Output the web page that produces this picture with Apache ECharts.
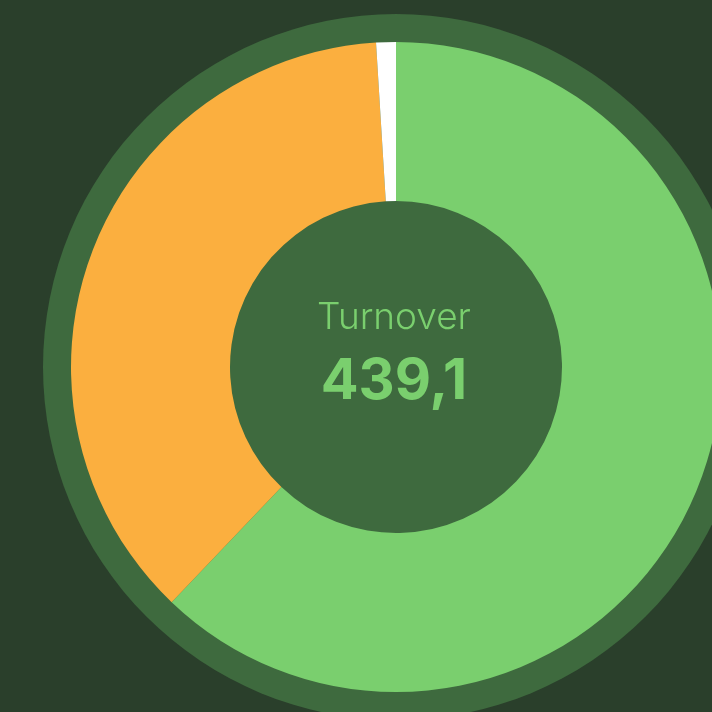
<!DOCTYPE html>
<html>
<head>
    <meta charset="utf-8">
    <title>Turnover</title>
    <script src="https://cdn.jsdelivr.net/npm/echarts@6/dist/echarts.min.js"></script>
    <style>
        html, body { margin: 0; padding: 0; background: #2a3f2b; }
        #main { width: 712px; height: 712px; }
    </style>
</head>
<body>
    <div id="main"></div>
    <script type="text/javascript">
    // data
    var names = ['Green', 'Orange', 'White'];
    var values = [272.8, 162.0, 4.3];
    var colors = ['#7acf6e', '#fbaf3f', '#ffffff'];
    var title = 'Turnover';
    var totalLabel = '439,1';

    var data = [];
    for (var i = 0; i < names.length; i++) {
        data.push({ name: names[i], value: values[i], itemStyle: { color: colors[i] } });
    }

    var cx = 396, cy = 367;
    var myChart = echarts.init(document.getElementById('main'));
    var option = {
        backgroundColor: '#2a3f2b',
        animation: false,
        graphic: [
            {
                type: 'text', z: 10,
                style: {
                    text: title, x: cx - 2, y: 318, align: 'center', verticalAlign: 'middle',
                    fill: '#7acf6e', font: '300 37px Inter'
                }
            },
            {
                type: 'text', z: 10,
                style: {
                    text: totalLabel, x: cx - 2, y: 382, align: 'center', verticalAlign: 'middle',
                    fill: '#7acf6e', font: 'bold 56px Inter'
                }
            }
        ],
        series: [
            {
                type: 'pie',
                silent: true,
                center: [cx, cy],
                radius: [0, 353],
                label: { show: false },
                labelLine: { show: false },
                data: [{ value: 1, itemStyle: { color: '#3e6a3e' } }]
            },
            {
                type: 'pie',
                silent: true,
                center: [cx, cy],
                radius: [166, 325],
                startAngle: 90,
                label: { show: false },
                labelLine: { show: false },
                itemStyle: { borderWidth: 0 },
                data: data
            }
        ]
    };
    myChart.setOption(option);
    </script>
</body>
</html>
